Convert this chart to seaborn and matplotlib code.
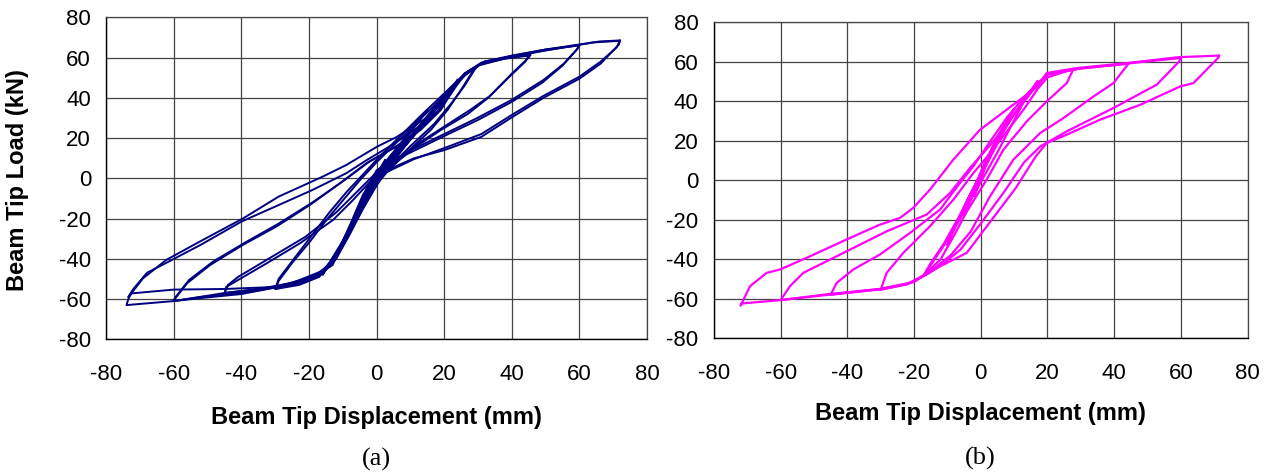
import numpy as np
import pandas as pd
import matplotlib
matplotlib.use("Agg")
import matplotlib.pyplot as plt
import seaborn as sns

# ---------------- data (a) ----------------
a_c1_x = [2.5, 1.5, 0, -1.5, -3, -2, -0.5, 1, 2.5]
a_c1_y = [9, 5, -1, -6, -10, -6, 0, 5, 9]
a_c2_x = [6, 4, 1, -2, -5, -4, -1, 2, 4, 6]
a_c2_y = [15, 9, 2, -8, -18, -13, -4, 6, 11, 15]
a_c3_x = [12, 9, 5, 1, -3, -7, -10, -8, -4, 0, 4, 8, 12]
a_c3_y = [28, 20, 11, 3, -9, -22, -32, -25, -14, -3, 8, 19, 28]
a_c3b_x = [15, 12, 8, 3, -1, -5, -9, -12, -10, -6, -2, 2, 6, 11, 15]
a_c3b_y = [34, 27, 19, 9, -1, -14, -28, -38, -31, -20, -8, 4, 15, 26, 34]
a_c4_x = [20, 16, 11, 5, 0, -4, -9, -14, -12, -8, -3, 2, 8, 14, 20]
a_c4_y = [40, 31, 21, 10, 0, -12, -29, -44, -38, -26, -12, 2, 15, 28, 40]
a_c4b_x = [24, 21, 16, 10, 4, -1, -5, -10, -16, -14, -10, -6, -2, 3, 9, 15, 20, 24]
a_c4b_y = [49, 41, 31, 20, 9, -3, -15, -32, -48, -42, -31, -18, -6, 6, 18, 30, 40, 49]
a_c5_x = [30, 29, 26, 22, 17, 10, 4, 0, -4, -8, -12, -16, -22, -30,
          -29, -25, -20, -15, -10, -5, 0, 6, 12, 17, 22, 26, 30]
a_c5_y = [56, 54, 46, 37, 27, 16, 6, -2, -12, -25, -38, -47, -52, -55,
          -51, -42, -32, -21, -11, -1, 8, 18, 28, 36, 45, 52, 56]
a_c6_x = [29, 28, 25, 21, 16, 9, 3, -1, -5, -9, -13, -17, -23, -30,
          -29, -24, -19, -14, -9, -4, 1, 7, 13, 18, 23, 27, 29]
a_c6_y = [55, 52, 44, 34, 24, 13, 3, -5, -16, -29, -41, -49, -53, -55,
          -50, -39, -28, -17, -7, 2, 11, 21, 31, 39, 47, 53, 55]
a_c7_x = [45.5, 45, 40, 33.6, 27.7, 20, 12, 4, 0, -4, -8, -12, -17, -25, -35, -45,
          -44.5, -42.5, -32.6, -22.7, -12.9, -7, -1, 5, 10, 15, 20, 25, 30, 38, 45.5]
a_c7_y = [61.3, 60, 52, 41, 34, 25.7, 17, 6, -3, -15, -28, -40, -48, -52, -55, -57,
          -54, -52, -42.3, -32.3, -20.7, -10.8, 0, 10, 20, 30, 40, 50, 56, 59.5, 61.3]
a_c8_x = [45, 44, 39, 33, 27, 19, 11, 3, -1, -5, -9, -13, -18, -26, -36, -45,
          -44, -41, -31, -21, -12, -6, 0, 6, 11, 16, 21, 26, 31, 38, 45]
a_c8_y = [61, 58, 50, 40, 32, 24, 15, 4, -5, -17, -30, -42, -49, -53, -56, -57,
          -53, -49, -39, -29, -17, -7, 3, 13, 23, 33, 43, 51, 57, 59.5, 61]
a_c9_x = [60, 59.5, 55.4, 49.4, 40, 29.7, 20, 9, 0, -3, -6, -9, -12, -16, -25, -40, -52, -60,
          -60, -56, -49.2, -39.5, -29.7, -19.8, -10.9, -3, 5, 12, 18, 22, 26, 31, 40, 50, 60]
a_c9_y = [66.3, 64.5, 57, 48.9, 39, 29.9, 22, 13, 4, -5, -16, -28, -38, -46, -52, -57, -59, -61,
          -60.5, -52, -43, -33, -24, -13.3, -2.5, 7.5, 15, 23, 33, 44, 52, 57.5, 60.5, 63.5, 66.3]
a_c10_x = [60, 59, 55, 49, 40, 30, 20, 9, 0, -3, -6, -9, -12, -17, -26, -40, -52, -60,
           -59.5, -55.5, -48.5, -39, -29, -19, -10, -2, 6, 13, 19, 23, 27, 32, 41, 50, 60]
a_c10_y = [66, 63.5, 56, 47.5, 38, 29, 21, 12, 3, -7, -18, -30, -40, -47, -53, -57.5, -59.5, -61,
           -59, -50.5, -41.5, -32, -22.5, -12, -1.5, 8.5, 16, 24, 34, 45, 53, 58, 61, 64, 66]
a_c11_x = [72, 71.7, 66.3, 60, 49.4, 40, 31, 20, 11, 1, -4, -7, -10, -13, -19, -30, -45, -60, -74,
           -73.5, -72.6, -69.2, -62.3, -52.4, -39.5, -29, -16, -9, 0, 6, 12, 18, 22, 26, 32, 40,
           49.4, 60, 64, 72]
a_c11_y = [68.3, 66.5, 57, 49.5, 40, 30.3, 20.6, 14, 9.9, 2.5, -8, -20, -31, -42, -49, -54, -57, -61, -63,
           -60, -57.2, -49.8, -40.6, -31.5, -19.9, -9.1, 0.8, 6.6, 15.6, 20.6, 27.2, 33, 42, 52, 58, 60.5,
           63.5, 66.3, 67.5, 68.3]
a_c12_x = [72, 71, 66.3, 60, 49.4, 40, 31, 20, 11, 1, -4, -7, -10, -13, -19, -30, -45, -60, -72.6,
           -73.5, -72, -68, -62, -52, -40, -29, -19, -9, -3, 5, 12, 18, 22, 26, 32, 40, 50, 60, 66, 72]
a_c12_y = [68.5, 65, 58, 50.5, 41, 31.5, 22, 15, 9.5, 1.5, -9, -21, -32, -43, -50, -54, -55, -55.3, -57.2,
           -59, -55, -47, -41.8, -33, -21.5, -13.3, -5.8, 2.5, 9, 17, 25, 33, 43, 52, 58, 61, 64, 66.5, 68, 68.5]

# ---------------- data (b) ----------------
b_c1_x = [2, 1, 0, -1, -2, -1, 0, 1, 2]
b_c1_y = [10, 5, 0, -4, -8, -4, 1, 6, 10]
b_c2_x = [5, 3, 1, -1, -3, -5, -4, -2, 0, 2, 4, 5]
b_c2_y = [22, 15, 8, 0, -8, -18, -14, -6, 2, 10, 17, 22]
b_c3_x = [10, 8, 5, 2, -1, -4, -7, -10, -9, -6, -3, 0, 3, 6, 10]
b_c3_y = [36, 29, 20, 10, 0, -10, -21, -33, -28, -17, -7, 3, 14, 25, 36]
b_c4_x = [17, 15, 11, 7, 3, 0, -3, -7, -11, -15, -17, -15, -11, -7, -3, 1, 5, 9, 13, 17]
b_c4_y = [50, 45, 36, 25, 12, 2, -8, -20, -32, -42, -48, -43, -33, -22, -10, 2, 14, 27, 40, 50]
b_c5_x = [27.8, 25.8, 19.8, 13.8, 6.8, 1.8, -4.2, -8, -12, -17, -22, -30,
          -28.2, -23.2, -15.2, -8.2, -2.2, 3, 8, 13, 17, 20, 27.8]
b_c5_y = [56.2, 49.1, 39.8, 29.7, 15.4, 0.3, -16, -28, -40, -48, -52.5, -55.5,
          -46.9, -36.8, -23.3, -9.9, 3.6, 14, 25, 36, 46, 52, 56.2]
b_c6_x = [44.3, 39.8, 33.8, 24.8, 17.8, 9.8, 2.8, -3, -9, -15, -20, -30, -45,
          -43.2, -38.2, -30.2, -21.2, -12.2, -6.2, -2.2, 3, 8, 13, 17, 20, 30, 44.3]
b_c6_y = [58.9, 49.1, 42.3, 31.4, 23.8, 10.4, -8.2, -26, -38, -46, -51.5, -55, -58,
          -52, -45.2, -37.6, -26.7, -14.9, -1.4, 7, 20, 32, 42, 49, 53.5, 56.5, 58.9]
b_c7_x = [60, 59.5, 52.8, 39.8, 25.8, 17.8, 13, 7, 0, -6, -11, -16, -21, -30, -45, -60,
          -57.2, -53.2, -40.2, -28.2, -16.2, -9.2, -3.2, 3, 10, 16.8, 20, 30, 44, 60]
b_c7_y = [61.8, 60, 48.3, 36.5, 24.7, 17, 9, -6, -22, -35, -42, -47.5, -52, -55, -57.5, -60.7,
          -53.7, -46.9, -36, -25.9, -17.4, -6.5, 6.2, 18, 33, 48, 53.5, 56.5, 59, 61.8]
b_c8_x = [71.5, 71.3, 63.8, 59.8, 47.8, 35.8, 25.8, 19.8, 16.5, 10.5, 2, -4.2, -12.2, -17.2, -22.2,
          -30.2, -45.2, -60.2, -71.7, -72, -69.2, -64.2, -60.2, -52.2, -40.2, -30.2, -24.2, -20.2,
          -15.2, -8.2, -0.2, 9.8, 16.8, 19.8, 28.8, 43.8, 59.3, 71.5]
b_c8_y = [63, 62, 49.1, 47.4, 38.1, 30.6, 23, 18.8, 12, -4, -23, -36.8, -43.6, -48.6, -52.8,
          -55.3, -57.9, -60.7, -62.4, -63.5, -53.7, -46.9, -45.2, -39.3, -30, -22.5, -19.1, -14,
          -4.8, 10.4, 25.5, 38.2, 47, 54.2, 56.7, 59.2, 62.2, 63]

tick_values = [-80, -60, -40, -20, 0, 20, 40, 60, 80]
x_label = "Beam Tip Displacement (mm)"
y_label = "Beam Tip Load (kN)"
panel_labels = ["(a)", "(b)"]
color_a = "#000080"
color_b = "#FF00FF"


def build(cycles):
    rows = []
    for k, (xs, ys) in enumerate(cycles):
        for i, (x, y) in enumerate(zip(xs, ys)):
            rows.append((k, i, x, y))
    return pd.DataFrame(rows, columns=["cycle", "order", "disp", "load"])


df_a = build([(a_c1_x, a_c1_y), (a_c2_x, a_c2_y), (a_c3_x, a_c3_y), (a_c3b_x, a_c3b_y),
              (a_c4_x, a_c4_y), (a_c4b_x, a_c4b_y),
              (a_c5_x, a_c5_y), (a_c6_x, a_c6_y), (a_c7_x, a_c7_y), (a_c8_x, a_c8_y),
              (a_c9_x, a_c9_y), (a_c10_x, a_c10_y), (a_c11_x, a_c11_y), (a_c12_x, a_c12_y)])
df_b = build([(b_c1_x, b_c1_y), (b_c2_x, b_c2_y), (b_c3_x, b_c3_y), (b_c4_x, b_c4_y),
              (b_c5_x, b_c5_y), (b_c6_x, b_c6_y), (b_c7_x, b_c7_y), (b_c8_x, b_c8_y)])

sns.set_style("white")
plt.rcParams["font.family"] = ["Liberation Sans", "DejaVu Sans"]
plt.rcParams["text.color"] = "black"

W, H = 1264, 473
fig = plt.figure(figsize=(W / 100, H / 100), dpi=100)

ax_a = fig.add_axes([106.3 / W, 1 - 339.3 / H, (647 - 106.3) / W, (339.3 - 17.3) / H])
ax_b = fig.add_axes([713.9 / W, 1 - 338.3 / H, (1247.5 - 713.9) / W, (338.3 - 22) / H])

sns.lineplot(data=df_a, x="disp", y="load", units="cycle", estimator=None, sort=False,
             color=color_a, lw=1.4, ax=ax_a)
sns.lineplot(data=df_b, x="disp", y="load", units="cycle", estimator=None, sort=False,
             color=color_b, lw=1.6, ax=ax_b)

for ax in (ax_a, ax_b):
    ax.set_xlim(-80, 80)
    ax.set_ylim(-80, 80)
    ax.set_xticks(tick_values)
    ax.set_yticks(tick_values)
    ax.set_xticklabels([str(v) for v in tick_values])
    ax.set_yticklabels([str(v) for v in tick_values])
    ax.set_xlabel("")
    ax.set_ylabel("")
    ax.grid(True, color="#444444", lw=0.9)
    ax.set_axisbelow(True)
    for s in ("top", "right"):
        ax.spines[s].set_color("#444444")
        ax.spines[s].set_linewidth(0.9)
    for s in ("left", "bottom"):
        ax.spines[s].set_color("black")
        ax.spines[s].set_linewidth(1.0)
    ax.tick_params(axis="both", direction="out", length=5, width=1, color="black",
                   labelsize=16, labelcolor="black")
    ax.tick_params(axis="x", pad=13)
    ax.tick_params(axis="y", pad=6)
    ax.set_facecolor("white")

fig.text(18 / W, 1 - 180 / H, y_label, rotation=90, ha="center", va="center",
         fontsize=17, fontweight="bold", color="black")
fig.text(376.7 / W, 1 - 417 / H, x_label, ha="center", va="center",
         fontsize=17, fontweight="bold", color="black")
fig.text(980.7 / W, 1 - 413 / H, x_label, ha="center", va="center",
         fontsize=17, fontweight="bold", color="black")
fig.text(376.7 / W, 1 - 459 / H, panel_labels[0], ha="center", va="center",
         fontsize=19, color="black", family=["Liberation Serif", "DejaVu Serif"])
fig.text(980.7 / W, 1 - 458 / H, panel_labels[1], ha="center", va="center",
         fontsize=19, color="black", family=["Liberation Serif", "DejaVu Serif"])

fig.savefig("out.png", dpi=100, facecolor="white")
